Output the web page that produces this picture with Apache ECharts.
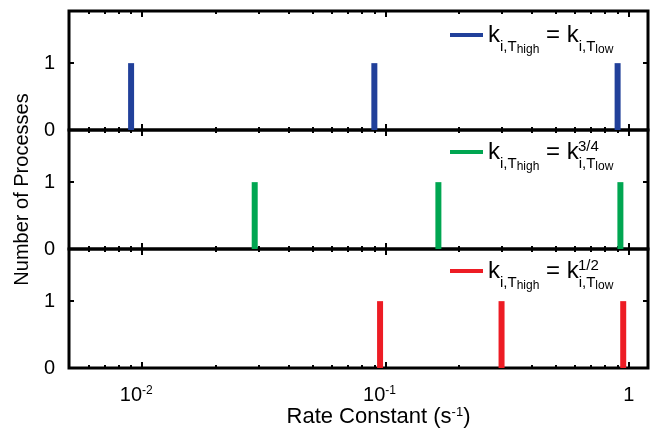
<!DOCTYPE html>
<html><head><meta charset="utf-8">
<script src="https://cdn.jsdelivr.net/npm/echarts@6/dist/echarts.min.js"></script>
<style>html,body{margin:0;padding:0;background:#fff}#c{width:654px;height:430px}</style>
</head><body><div id="c"></div>
<script>
// ---- data ----
const blueRates = [0.009, 0.09, 0.9];
const greenRates = [0.029, 0.165, 0.924];
const redRates = [0.095, 0.3, 0.949];
const counts = [1, 1, 1];
const seriesNames = ['k_high = k_low', 'k_high = k_low^(3/4)', 'k_high = k_low^(1/2)'];
const legendExponents = ['', '3/4', '1/2'];
const xMajorTicks = [0.01, 0.1, 1];
const xMajorLabels = ['10{sup|-2}', '10{sup|-1}', '1'];
const xMinorTicks = [0.006, 0.007, 0.008, 0.009, 0.02, 0.03, 0.04, 0.05, 0.06, 0.07, 0.08, 0.09,
                     0.2, 0.3, 0.4, 0.5, 0.6, 0.7, 0.8, 0.9];
const yTicks = [0, 1];
const xRange = [0.005, 1.2];
const yRange = [0, 1.78];
const xTitle = 'Rate Constant (s{sup|-1})';
const yTitle = 'Number of Processes';

// ---- style ----
const FONT = '"Liberation Sans", Arial, Helvetica, sans-serif';
const colors = ['#21409a', '#00a651', '#ed1c24'];
const allRates = [blueRates, greenRates, redRates];
const panelTop = 11, panelH = 119;
const legendIconY = [34, 151, 270];

const chart = echarts.init(document.getElementById('c'), null, {renderer: 'canvas'});

const grid = [], xAxis = [], yAxis = [], series = [], legend = [], graphic = [];
const tickLine = {color: '#000', width: 2};

function xAx(i, pos, ticks, len, withLabels) {
  const a = {
    type: 'log', logBase: 10, gridIndex: i, position: pos,
    min: xRange[0], max: xRange[1],
    axisLine: {show: false},
    axisTick: {show: true, inside: true, length: len, customValues: ticks, lineStyle: tickLine},
    axisLabel: {show: false},
    splitLine: {show: false}, minorTick: {show: false}, minorSplitLine: {show: false}
  };
  if (withLabels) {
    a.axisLabel = {
      show: true, customValues: xMajorTicks, margin: 17, color: '#000',
      fontSize: 20, fontFamily: FONT,
      formatter: function (v) {
        const idx = xMajorTicks.findIndex(t => Math.abs(Math.log10(t) - Math.log10(v)) < 1e-6);
        const s = idx >= 0 ? xMajorLabels[idx] : '';
        return s.indexOf('{sup') >= 0 ? s + '{pad| }' : s;
      },
      rich: {
        sup: {fontSize: 12, fontFamily: FONT, color: '#000', verticalAlign: 'top'},
        pad: {width: 12, fontSize: 12}
      }
    };
    a.name = xTitle;
    a.nameLocation = 'middle';
    a.nameGap = 28;
    a.nameTextStyle = {
      fontSize: 22, fontFamily: FONT, color: '#000', padding: [0, 0, 0, 40],
      rich: {sup: {fontSize: 13, fontFamily: FONT, color: '#000', verticalAlign: 'top'}}
    };
  }
  return a;
}

const legendRich = {
  k: {fontSize: 24, fontFamily: FONT, color: '#000', verticalAlign: 'bottom', padding: [9, 0, 9, 0]},
  eq: {fontSize: 24, fontFamily: FONT, color: '#000', verticalAlign: 'bottom', padding: [9, 0, 9, 0]},
  sub: {fontSize: 15, fontFamily: FONT, color: '#000', verticalAlign: 'bottom', padding: [0, 0, 1.4, 0]},
  sub2: {fontSize: 12, fontFamily: FONT, color: '#000', verticalAlign: 'bottom', padding: [0, 0, 0, 0]}
};

for (let i = 0; i < 3; i++) {
  grid.push({left: 69, right: 6, top: panelTop + i * panelH, height: panelH,
             show: true, borderColor: '#000', borderWidth: 3, backgroundColor: 'transparent'});
  xAxis.push(xAx(i, 'bottom', xMajorTicks, 6, i === 2));
  xAxis.push(xAx(i, 'bottom', xMinorTicks, 3, false));
  xAxis.push(xAx(i, 'top', xMajorTicks, 6, false));
  xAxis.push(xAx(i, 'top', xMinorTicks, 3, false));
  yAxis.push({
    type: 'value', gridIndex: i, position: 'left', min: yRange[0], max: yRange[1],
    axisLine: {show: false},
    axisTick: {show: true, inside: true, length: 5, customValues: yTicks, lineStyle: tickLine},
    axisLabel: {customValues: yTicks, margin: 14, color: '#000', fontSize: 20, fontFamily: FONT},
    splitLine: {show: false},
    name: i === 1 ? yTitle : '', nameLocation: 'middle', nameGap: 35,
    nameTextStyle: {fontSize: 20, fontFamily: FONT, color: '#000'}
  });
  yAxis.push({
    type: 'value', gridIndex: i, position: 'right', min: yRange[0], max: yRange[1],
    axisLine: {show: false},
    axisTick: {show: true, inside: true, length: 5, customValues: [1], lineStyle: tickLine},
    axisLabel: {show: false}, splitLine: {show: false}
  });
  series.push({
    type: 'bar', name: seriesNames[i], xAxisIndex: 4 * i, yAxisIndex: 2 * i,
    data: allRates[i].map((r, j) => [r, counts[j]]),
    barWidth: 6, itemStyle: {color: colors[i]}, silent: true
  });
  const lowPart = '{k|k}{sub|i,T}{sub2|low}';
  legend.push({
    data: [seriesNames[i]], left: 450, top: legendIconY[i] - 11, padding: 0,
    icon: 'rect', itemWidth: 33, itemHeight: 4, selectedMode: false,
    formatter: () => '{k|k}{sub|i,T}{sub2|high}{eq| = }' + lowPart,
    textStyle: {fontFamily: FONT, color: '#000', rich: legendRich}
  });
  if (legendExponents[i]) {
    graphic.push({
      type: 'text', x: 578, y: legendIconY[i] - 4,
      style: {text: legendExponents[i], font: '15px ' + FONT, fill: '#000', verticalAlign: 'middle', align: 'left'}
    });
  }
}

chart.setOption({
  animation: false,
  backgroundColor: '#fff',
  grid, xAxis, yAxis, series, legend, graphic
});
</script>
</body></html>
